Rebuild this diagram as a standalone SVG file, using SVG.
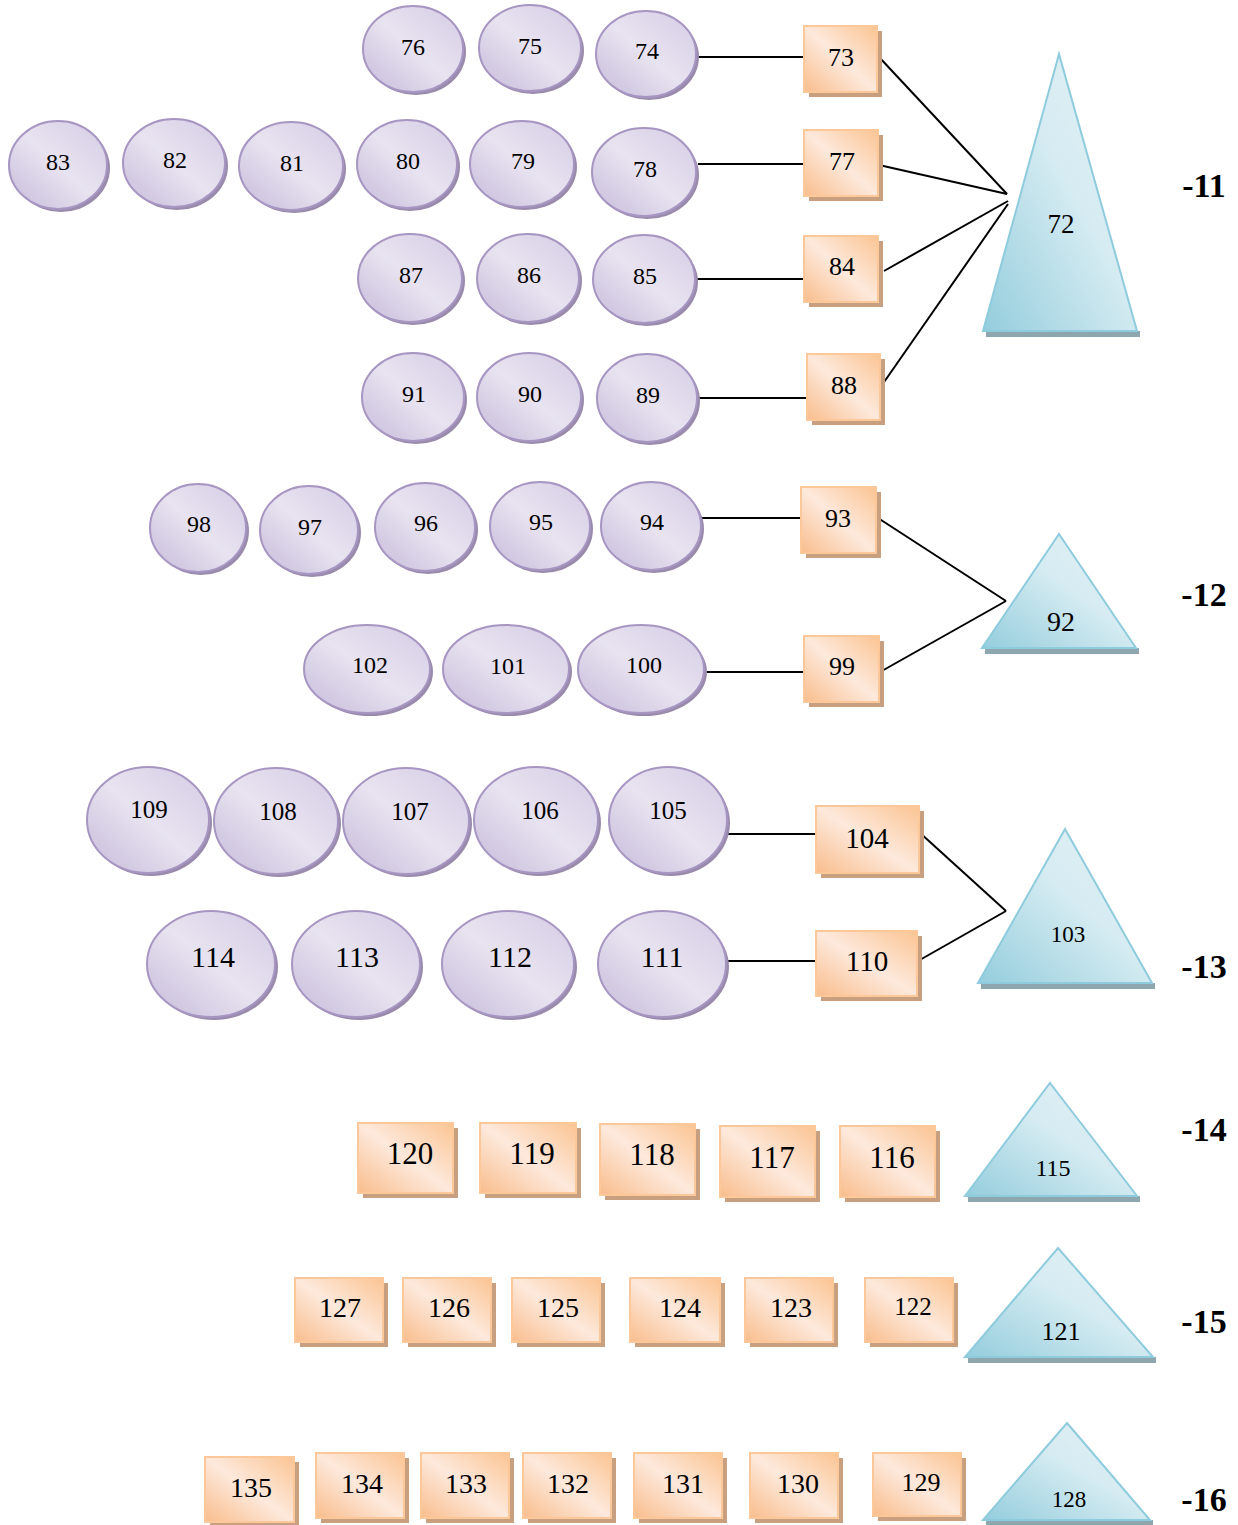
<svg xmlns="http://www.w3.org/2000/svg" width="1238" height="1525" viewBox="0 0 1238 1525" font-family="Liberation Serif, Times New Roman, DejaVu Serif, serif">
<defs>
<linearGradient id="gE" x1="0" y1="1" x2="1" y2="0">
<stop offset="0" stop-color="#c6bada"/><stop offset="0.5" stop-color="#e8e3f0"/><stop offset="1" stop-color="#d5cbe5"/>
</linearGradient>
<linearGradient id="gR" x1="0" y1="1" x2="1" y2="0">
<stop offset="0" stop-color="#f9bd8c"/><stop offset="0.5" stop-color="#fde9dc"/><stop offset="1" stop-color="#fbc492"/>
</linearGradient>
<linearGradient id="gT" x1="0" y1="1" x2="1" y2="0">
<stop offset="0" stop-color="#94cddd"/><stop offset="0.55" stop-color="#d6ecf2"/><stop offset="1" stop-color="#e2f1f6"/>
</linearGradient>
<style>
.e{fill:url(#gE);stroke:#a796c2;stroke-width:2}
.es{fill:#9a8bac}
.r{fill:url(#gR);stroke:#fcc89a;stroke-width:2}
.rs{fill:#c9a07f}
.t{fill:url(#gT);stroke:#8ecbdc;stroke-width:2}
.ts{fill:#8ea7ae}
text{fill:#000;text-anchor:middle}
.lb{font-weight:bold;font-size:34px}
.c line{stroke:#000;stroke-width:2}
</style>
</defs>
<rect width="1238" height="1525" fill="#fff"/>

<g class="c" id="connectors">
<line x1="698" y1="57" x2="804" y2="57"/>
<line x1="698" y1="164" x2="804" y2="164"/>
<line x1="697" y1="279" x2="804" y2="279"/>
<line x1="699" y1="398" x2="807" y2="398"/>
<line x1="879" y1="57" x2="1007" y2="194"/>
<line x1="879" y1="165" x2="1007" y2="194"/>
<line x1="884" y1="271" x2="1008" y2="201"/>
<line x1="882" y1="385" x2="1008" y2="204"/>
<line x1="700" y1="518" x2="801" y2="518"/>
<line x1="705" y1="672" x2="804" y2="672"/>
<line x1="878" y1="518" x2="1006" y2="601"/>
<line x1="880" y1="672" x2="1006" y2="601"/>
<line x1="728" y1="834" x2="816" y2="834"/>
<line x1="727" y1="961" x2="816" y2="961"/>
<line x1="919" y1="832" x2="1006" y2="911"/>
<line x1="918" y1="961" x2="1006" y2="911"/>
</g>

<!-- ellipses -->
<g id="n76"><ellipse class="es" cx="416" cy="52" rx="50" ry="43"/><ellipse class="e" cx="413" cy="49" rx="50" ry="43"/><text x="413" y="55" font-size="24">76</text></g>
<g id="n75"><ellipse class="es" cx="533" cy="51" rx="51" ry="43"/><ellipse class="e" cx="530" cy="48" rx="51" ry="43"/><text x="530" y="54" font-size="24">75</text></g>
<g id="n74"><ellipse class="es" cx="649" cy="57" rx="50" ry="43"/><ellipse class="e" cx="646" cy="54" rx="50" ry="43"/><text x="647" y="59" font-size="24">74</text></g>
<g id="n83"><ellipse class="es" cx="61" cy="168" rx="49" ry="44"/><ellipse class="e" cx="58" cy="165" rx="49" ry="44"/><text x="58" y="170" font-size="24">83</text></g>
<g id="n82"><ellipse class="es" cx="177" cy="166" rx="51" ry="44"/><ellipse class="e" cx="174" cy="163" rx="51" ry="44"/><text x="175" y="168" font-size="24">82</text></g>
<g id="n81"><ellipse class="es" cx="294" cy="169" rx="52" ry="44"/><ellipse class="e" cx="291" cy="166" rx="52" ry="44"/><text x="292" y="171" font-size="24">81</text></g>
<g id="n80"><ellipse class="es" cx="410" cy="167" rx="50" ry="44"/><ellipse class="e" cx="407" cy="164" rx="50" ry="44"/><text x="408" y="169" font-size="24">80</text></g>
<g id="n79"><ellipse class="es" cx="525" cy="167" rx="52" ry="43"/><ellipse class="e" cx="522" cy="164" rx="52" ry="43"/><text x="523" y="169" font-size="24">79</text></g>
<g id="n78"><ellipse class="es" cx="647" cy="175" rx="52" ry="44"/><ellipse class="e" cx="644" cy="172" rx="52" ry="44"/><text x="645" y="177" font-size="24">78</text></g>
<g id="n87"><ellipse class="es" cx="413" cy="281" rx="52" ry="44"/><ellipse class="e" cx="410" cy="278" rx="52" ry="44"/><text x="411" y="283" font-size="24">87</text></g>
<g id="n86"><ellipse class="es" cx="531" cy="281" rx="51" ry="44"/><ellipse class="e" cx="528" cy="278" rx="51" ry="44"/><text x="529" y="283" font-size="24">86</text></g>
<g id="n85"><ellipse class="es" cx="647" cy="282" rx="51" ry="44"/><ellipse class="e" cx="644" cy="279" rx="51" ry="44"/><text x="645" y="284" font-size="24">85</text></g>
<g id="n91"><ellipse class="es" cx="416" cy="400" rx="51" ry="44"/><ellipse class="e" cx="413" cy="397" rx="51" ry="44"/><text x="414" y="402" font-size="24">91</text></g>
<g id="n90"><ellipse class="es" cx="532" cy="400" rx="52" ry="44"/><ellipse class="e" cx="529" cy="397" rx="52" ry="44"/><text x="530" y="402" font-size="24">90</text></g>
<g id="n89"><ellipse class="es" cx="650" cy="401" rx="50" ry="44"/><ellipse class="e" cx="647" cy="398" rx="50" ry="44"/><text x="648" y="403" font-size="24">89</text></g>

<g id="n98"><ellipse class="es" cx="201" cy="531" rx="48" ry="44"/><ellipse class="e" cx="198" cy="528" rx="48" ry="44"/><text x="199" y="532" font-size="24">98</text></g>
<g id="n97"><ellipse class="es" cx="312" cy="533" rx="49" ry="44"/><ellipse class="e" cx="309" cy="530" rx="49" ry="44"/><text x="310" y="535" font-size="24">97</text></g>
<g id="n96"><ellipse class="es" cx="428" cy="530" rx="50" ry="44"/><ellipse class="e" cx="425" cy="527" rx="50" ry="44"/><text x="426" y="531" font-size="24">96</text></g>
<g id="n95"><ellipse class="es" cx="543" cy="529" rx="50" ry="44"/><ellipse class="e" cx="540" cy="526" rx="50" ry="44"/><text x="541" y="530" font-size="24">95</text></g>
<g id="n94"><ellipse class="es" cx="654" cy="529" rx="50" ry="44"/><ellipse class="e" cx="651" cy="526" rx="50" ry="44"/><text x="652" y="530" font-size="24">94</text></g>
<g id="n102"><ellipse class="es" cx="370" cy="672" rx="63" ry="44"/><ellipse class="e" cx="367" cy="669" rx="63" ry="44"/><text x="370" y="673" font-size="24">102</text></g>
<g id="n101"><ellipse class="es" cx="509" cy="672" rx="63" ry="44"/><ellipse class="e" cx="506" cy="669" rx="63" ry="44"/><text x="508" y="674" font-size="24">101</text></g>
<g id="n100"><ellipse class="es" cx="644" cy="672" rx="63" ry="44"/><ellipse class="e" cx="641" cy="669" rx="63" ry="44"/><text x="644" y="673" font-size="24">100</text></g>

<g id="n109"><ellipse class="es" cx="151" cy="823" rx="61" ry="53"/><ellipse class="e" cx="148" cy="820" rx="61" ry="53"/><text x="149" y="818" font-size="25">109</text></g>
<g id="n108"><ellipse class="es" cx="279" cy="824" rx="62" ry="53"/><ellipse class="e" cx="276" cy="821" rx="62" ry="53"/><text x="278" y="820" font-size="25">108</text></g>
<g id="n107"><ellipse class="es" cx="409" cy="824" rx="63" ry="53"/><ellipse class="e" cx="406" cy="821" rx="63" ry="53"/><text x="410" y="820" font-size="25">107</text></g>
<g id="n106"><ellipse class="es" cx="539" cy="823" rx="62" ry="53"/><ellipse class="e" cx="536" cy="820" rx="62" ry="53"/><text x="540" y="819" font-size="25">106</text></g>
<g id="n105"><ellipse class="es" cx="671" cy="823" rx="59" ry="53"/><ellipse class="e" cx="668" cy="820" rx="59" ry="53"/><text x="668" y="819" font-size="25">105</text></g>
<g id="n114"><ellipse class="es" cx="214" cy="967" rx="64" ry="53"/><ellipse class="e" cx="211" cy="964" rx="64" ry="53"/><text x="213" y="967" font-size="30">114</text></g>
<g id="n113"><ellipse class="es" cx="359" cy="967" rx="64" ry="53"/><ellipse class="e" cx="356" cy="964" rx="64" ry="53"/><text x="357" y="967" font-size="30">113</text></g>
<g id="n112"><ellipse class="es" cx="511" cy="967" rx="66" ry="53"/><ellipse class="e" cx="508" cy="964" rx="66" ry="53"/><text x="510" y="967" font-size="30">112</text></g>
<g id="n111"><ellipse class="es" cx="665" cy="967" rx="64" ry="53"/><ellipse class="e" cx="662" cy="964" rx="64" ry="53"/><text x="662" y="967" font-size="30">111</text></g>

<!-- rectangles -->
<g id="n73"><rect class="rs" x="809" y="31" width="73" height="66"/><rect class="r" x="804" y="26" width="73" height="66"/><text x="841" y="66" font-size="26">73</text></g>
<g id="n77"><rect class="rs" x="809" y="135" width="74" height="66"/><rect class="r" x="804" y="130" width="74" height="66"/><text x="842" y="170" font-size="26">77</text></g>
<g id="n84"><rect class="rs" x="809" y="241" width="74" height="66"/><rect class="r" x="804" y="236" width="74" height="66"/><text x="842" y="275" font-size="26">84</text></g>
<g id="n88"><rect class="rs" x="812" y="359" width="73" height="66"/><rect class="r" x="807" y="354" width="73" height="66"/><text x="844" y="394" font-size="26">88</text></g>
<g id="n93"><rect class="rs" x="806" y="492" width="75" height="66"/><rect class="r" x="801" y="487" width="75" height="66"/><text x="838" y="527" font-size="26">93</text></g>
<g id="n99"><rect class="rs" x="809" y="641" width="75" height="66"/><rect class="r" x="804" y="636" width="75" height="66"/><text x="842" y="675" font-size="26">99</text></g>
<g id="n104"><rect class="rs" x="821" y="811" width="103" height="67"/><rect class="r" x="816" y="806" width="103" height="67"/><text x="867" y="848" font-size="29">104</text></g>
<g id="n110"><rect class="rs" x="821" y="936" width="101" height="65"/><rect class="r" x="816" y="931" width="101" height="65"/><text x="867" y="971" font-size="29">110</text></g>

<g id="n120"><rect class="rs" x="363" y="1128" width="95" height="70"/><rect class="r" x="358" y="1123" width="95" height="70"/><text x="410" y="1164" font-size="31">120</text></g>
<g id="n119"><rect class="rs" x="485" y="1128" width="96" height="70"/><rect class="r" x="480" y="1123" width="96" height="70"/><text x="532" y="1164" font-size="31">119</text></g>
<g id="n118"><rect class="rs" x="605" y="1129" width="95" height="71"/><rect class="r" x="600" y="1124" width="95" height="71"/><text x="652" y="1165" font-size="31">118</text></g>
<g id="n117"><rect class="rs" x="725" y="1131" width="95" height="71"/><rect class="r" x="720" y="1126" width="95" height="71"/><text x="772" y="1168" font-size="31">117</text></g>
<g id="n116"><rect class="rs" x="845" y="1131" width="95" height="71"/><rect class="r" x="840" y="1126" width="95" height="71"/><text x="892" y="1168" font-size="31">116</text></g>

<g id="n127"><rect class="rs" x="300" y="1283" width="88" height="64"/><rect class="r" x="295" y="1278" width="88" height="64"/><text x="340" y="1317" font-size="28">127</text></g>
<g id="n126"><rect class="rs" x="408" y="1283" width="88" height="64"/><rect class="r" x="403" y="1278" width="88" height="64"/><text x="449" y="1317" font-size="28">126</text></g>
<g id="n125"><rect class="rs" x="517" y="1283" width="88" height="64"/><rect class="r" x="512" y="1278" width="88" height="64"/><text x="558" y="1317" font-size="28">125</text></g>
<g id="n124"><rect class="rs" x="635" y="1283" width="90" height="64"/><rect class="r" x="630" y="1278" width="90" height="64"/><text x="680" y="1317" font-size="28">124</text></g>
<g id="n123"><rect class="rs" x="750" y="1283" width="88" height="64"/><rect class="r" x="745" y="1278" width="88" height="64"/><text x="791" y="1317" font-size="28">123</text></g>
<g id="n122"><rect class="rs" x="870" y="1283" width="88" height="64"/><rect class="r" x="865" y="1278" width="88" height="64"/><text x="913" y="1315" font-size="25">122</text></g>

<g id="n135"><rect class="rs" x="210" y="1462" width="89" height="65"/><rect class="r" x="205" y="1457" width="89" height="65"/><text x="251" y="1497" font-size="28">135</text></g>
<g id="n134"><rect class="rs" x="321" y="1458" width="88" height="65"/><rect class="r" x="316" y="1453" width="88" height="65"/><text x="362" y="1493" font-size="28">134</text></g>
<g id="n133"><rect class="rs" x="426" y="1458" width="88" height="65"/><rect class="r" x="421" y="1453" width="88" height="65"/><text x="466" y="1493" font-size="28">133</text></g>
<g id="n132"><rect class="rs" x="528" y="1458" width="88" height="65"/><rect class="r" x="523" y="1453" width="88" height="65"/><text x="568" y="1493" font-size="28">132</text></g>
<g id="n131"><rect class="rs" x="639" y="1458" width="88" height="65"/><rect class="r" x="634" y="1453" width="88" height="65"/><text x="683" y="1493" font-size="28">131</text></g>
<g id="n130"><rect class="rs" x="755" y="1458" width="88" height="65"/><rect class="r" x="750" y="1453" width="88" height="65"/><text x="798" y="1493" font-size="28">130</text></g>
<g id="n129"><rect class="rs" x="878" y="1458" width="88" height="63"/><rect class="r" x="873" y="1453" width="88" height="63"/><text x="921" y="1491" font-size="26">129</text></g>

<!-- triangles -->
<g id="n72"><rect class="ts" x="986" y="331" width="154" height="6"/><polygon class="t" points="1059,54 1137,331 983,331"/><text x="1061" y="233" font-size="27">72</text></g>
<g id="n92"><rect class="ts" x="985" y="648" width="154" height="6"/><polygon class="t" points="1059,534 1136,648 982,648"/><text x="1061" y="631" font-size="28">92</text></g>
<g id="n103"><rect class="ts" x="981" y="983" width="174" height="6"/><polygon class="t" points="1065,829 1152,983 978,983"/><text x="1068" y="942" font-size="23">103</text></g>
<g id="n115"><rect class="ts" x="968" y="1196" width="172" height="6"/><polygon class="t" points="1050,1083 1137,1196 965,1196"/><text x="1053" y="1176" font-size="24">115</text></g>
<g id="n121"><rect class="ts" x="968" y="1357" width="188" height="6"/><polygon class="t" points="1058,1248 1153,1357 965,1357"/><text x="1061" y="1340" font-size="26">121</text></g>
<g id="n128"><rect class="ts" x="986" y="1520" width="167" height="5"/><polygon class="t" points="1067,1423 1150,1520 983,1520"/><text x="1069" y="1507" font-size="23">128</text></g>

<!-- level labels -->
<g id="labels">
<text class="lb" x="1204" y="197">-11</text>
<text class="lb" x="1204" y="606">-12</text>
<text class="lb" x="1204" y="978">-13</text>
<text class="lb" x="1204" y="1141">-14</text>
<text class="lb" x="1204" y="1333">-15</text>
<text class="lb" x="1204" y="1511">-16</text>
</g>
</svg>
